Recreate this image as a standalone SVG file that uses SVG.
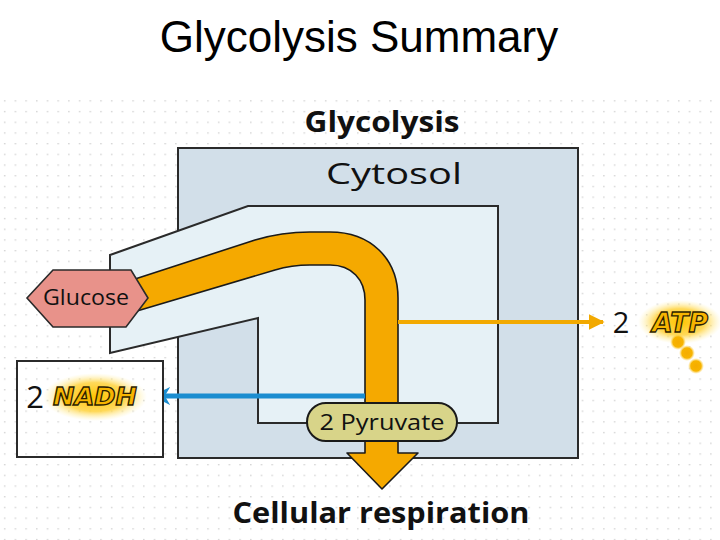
<svg xmlns="http://www.w3.org/2000/svg" width="720" height="540" viewBox="0 0 720 540">
<defs>
  <pattern id="dots" x="0" y="0" width="10.7" height="10.7" patternUnits="userSpaceOnUse">
    <rect x="4" y="4" width="1.4" height="1.2" fill="#c9c9c9"/>
  </pattern>
  <radialGradient id="glow" cx="50%" cy="50%" r="50%">
    <stop offset="0" stop-color="#ffc400" stop-opacity="1"/>
    <stop offset="0.6" stop-color="#ffd23c" stop-opacity="0.85"/>
    <stop offset="1" stop-color="#fff0a0" stop-opacity="0"/>
  </radialGradient>
  <radialGradient id="dotGlow" cx="50%" cy="50%" r="50%">
    <stop offset="0" stop-color="#f5ac00"/>
    <stop offset="0.65" stop-color="#f7b400"/>
    <stop offset="1" stop-color="#ffd860" stop-opacity="0"/>
  </radialGradient>
  <marker id="atpHead" viewBox="0 0 10 10" refX="9" refY="5" markerWidth="4" markerHeight="4.4" orient="auto" markerUnits="strokeWidth">
    <path d="M0 0 L10 5 L0 10 Z" fill="#f2a900"/>
  </marker>
  <marker id="nadhHead" viewBox="0 0 10 10" refX="9" refY="5" markerWidth="3.6" markerHeight="5" orient="auto" markerUnits="strokeWidth">
    <path d="M0 0 L10 5 L0 10 L3 5 Z" fill="#1b8dd0"/>
  </marker>
  <style>
    .sans { font-family: "Open Sans", "DejaVu Sans", "Liberation Sans", sans-serif; fill: #111; }
    .title { font-family: "Liberation Sans", Arial, sans-serif; font-size: 44px; fill: #000; }
    .box { stroke: #2a2a2a; stroke-width: 2; }
    .energy { font-family: "DejaVu Sans", "Liberation Sans", sans-serif; font-weight: bold; font-style: italic; fill: #f7b500; stroke: #2e1e00; stroke-width: 1.3; }
  </style>
</defs>

<rect width="720" height="540" fill="#ffffff"/>
<rect x="0" y="95" width="720" height="445" fill="url(#dots)"/>

<text class="title" x="359" y="52" text-anchor="middle">Glycolysis Summary</text>

<g id="cytosol">
  <rect class="box" x="178" y="148" width="400" height="310" fill="#d2dfe9"/>
  <text class="sans" x="394" y="184" font-size="29" text-anchor="middle" textLength="136" lengthAdjust="spacingAndGlyphs">Cytosol</text>
</g>

<g id="pathway-channel">
  <path class="box" d="M110 255 L248 206 L498 206 L498 423 L258 423 L258 318 L110 353 Z" fill="#e6f1f6" stroke="#111"/>
</g>

<text class="sans" x="382" y="132" font-size="29" font-weight="bold" text-anchor="middle" textLength="155" lengthAdjust="spacingAndGlyphs">Glycolysis</text>

<g id="connectors">
  <path id="flow" d="M132 280 L255 240 C275 234 292 232 310 232 L330 232 C370 232 398 258 398 298 L398 453 L418 453 L382 489 L347 453 L365 453 L365 300 C365 280 352 265 330 265 L310 265 C296 265 285 267 275 270 L137 311 Z" fill="#f5a900" stroke="#1a1a1a" stroke-width="1.6" stroke-linejoin="round"/>
  <line id="to-atp" x1="398" y1="322" x2="603" y2="322" stroke="#f2a900" stroke-width="4" marker-end="url(#atpHead)"/>
  <line id="to-nadh" x1="365" y1="396" x2="154" y2="396" stroke="#1b8dd0" stroke-width="5" marker-end="url(#nadhHead)"/>
</g>

<g id="glucose">
  <polygon points="53,270 131,270 148,298 126,327 53,327 27,298" fill="#e8928a" stroke="#2a2a2a" stroke-width="1.6"/>
  <text class="sans" x="86" y="305" font-size="21" text-anchor="middle" textLength="86" lengthAdjust="spacingAndGlyphs">Glucose</text>
</g>

<g id="pyruvate">
  <rect x="307" y="403" width="150" height="38" rx="19" ry="19" fill="#d8d489" stroke="#1a1a1a" stroke-width="2"/>
  <text class="sans" x="382" y="430" font-size="22" text-anchor="middle" textLength="125" lengthAdjust="spacingAndGlyphs">2 Pyruvate</text>
</g>

<g id="atp">
  <ellipse cx="680" cy="322" rx="42" ry="22" fill="url(#glow)"/>
  <circle cx="678" cy="342" r="8" fill="url(#dotGlow)"/>
  <circle cx="687" cy="353" r="8" fill="url(#dotGlow)"/>
  <circle cx="696" cy="366" r="8" fill="url(#dotGlow)"/>
  <text class="sans" x="621" y="333" font-size="29" text-anchor="middle">2</text>
  <text class="energy" x="680" y="332" font-size="27" text-anchor="middle" textLength="56" lengthAdjust="spacingAndGlyphs">ATP</text>
</g>

<g id="nadh">
  <rect class="box" x="17" y="361" width="146" height="96" fill="#ffffff"/>
  <rect x="18" y="362" width="144" height="94" fill="url(#dots)"/>
  <ellipse cx="95" cy="397" rx="52" ry="24" fill="url(#glow)"/>
  <text class="sans" x="35" y="408" font-size="31" text-anchor="middle">2</text>
  <text class="energy" x="95" y="405" font-size="24" text-anchor="middle" textLength="84" lengthAdjust="spacingAndGlyphs">NADH</text>
</g>

<text class="sans" x="381" y="523" font-size="29" font-weight="bold" text-anchor="middle" textLength="297" lengthAdjust="spacingAndGlyphs">Cellular respiration</text>
</svg>
